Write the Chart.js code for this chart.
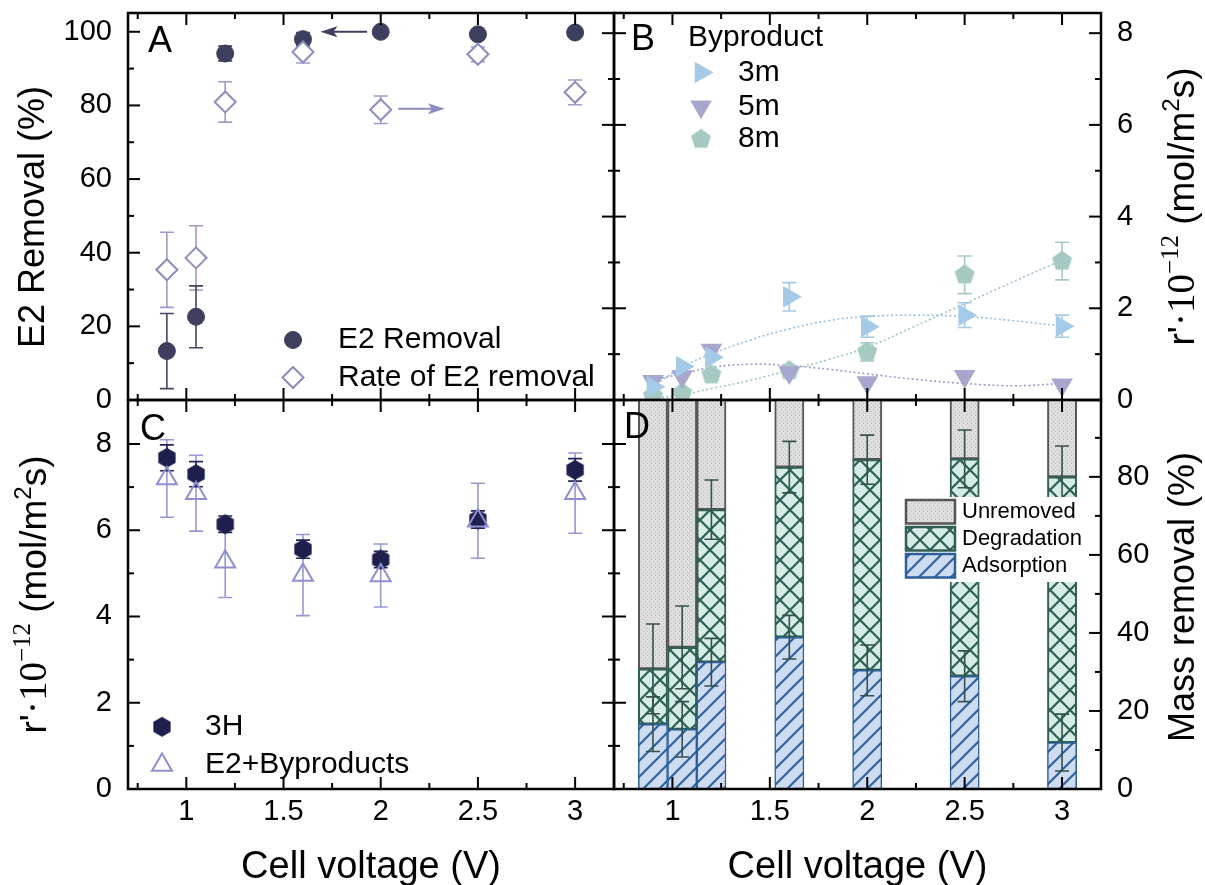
<!DOCTYPE html>
<html>
<head>
<meta charset="utf-8">
<title>E2 removal panels</title>
<script src="https://cdn.jsdelivr.net/npm/chart.js@4.4.1/dist/chart.umd.min.js"></script>
<style>
  html, body { margin:0; padding:0; background:#ffffff; }
  body { position:relative; width:1205px; height:885px; overflow:hidden; }
  canvas { position:absolute; left:-60px; top:-60px; }
</style>
</head>
<body>
<canvas id="cA" width="1325" height="1005"></canvas>
<canvas id="cB" width="1325" height="1005"></canvas>
<canvas id="cC" width="1325" height="1005"></canvas>
<canvas id="cD" width="1325" height="1005"></canvas>
<script>
// ------------------------- data -------------------------
const voltage = [0.9, 1.05, 1.2, 1.6, 2.0, 2.5, 3.0];
const xTickValues  = [1, 1.5, 2, 2.5, 3];
const xMinorValues = [0.75, 1.25, 1.75, 2.25, 2.75];

// Panel A
const yTicksA = [0, 20, 40, 60, 80, 100];
const yMinorA = [10, 30, 50, 70, 90];
const e2Removal    = [13.3, 22.6, 94.1, 98.0, 100.0, 99.3, 99.8];
const e2RemovalErr = [10.2, 8.4, 2.0, 1.8, 0.3, 0.4, 0.3];
const e2Rate       = [2.84, 3.10, 6.50, 7.59, 6.33, 7.54, 6.71];   // r'·10^-12 (right axis)
const e2RateErr    = [0.82, 0.70, 0.44, 0.24, 0.30, 0.16, 0.27];

// Panel B
const yTicksB = [0, 2, 4, 6, 8];
const yMinorB = [1, 3, 5, 7];
const rate3m    = [0.29, 0.73, 0.93, 2.25, 1.60, 1.85, 1.61];
const rate3mErr = [null, null, null, 0.31, 0.23, 0.27, 0.24];
const rate5m    = [0.41, 0.51, 1.09, 0.60, 0.38, 0.52, 0.33];
const rate5mErr = [null, null, 0.10, null, null, null, null];
const rate8m    = [0.09, 0.15, 0.55, 0.64, 1.05, 2.73, 3.03];
const rate8mErr = [null, null, null, null, 0.20, 0.41, 0.41];
const fitX  = [0.9, 1.05, 1.2, 1.4, 1.6, 1.8, 2.0, 2.25, 2.5, 2.75, 3.0];
const fit3m = [0.29, 0.72, 1.00, 1.31, 1.55, 1.73, 1.82, 1.85, 1.82, 1.73, 1.61];
const fit5m = [0.44, 0.57, 0.71, 0.78, 0.75, 0.67, 0.57, 0.45, 0.36, 0.31, 0.36];
const fit8m = [0.04, 0.11, 0.25, 0.43, 0.65, 0.88, 1.15, 1.62, 2.10, 2.58, 3.05];

// Panel C
const yTicksC = [0, 2, 4, 6, 8];
const yMinorC = [1, 3, 5, 7];
const rate3H        = [7.68, 7.30, 6.14, 5.56, 5.32, 6.25, 7.40];
const rate3HErr     = [0.30, 0.29, 0.19, 0.21, 0.19, 0.20, 0.26];
const rateTotal     = [7.20, 6.86, 5.27, 4.96, 4.95, 6.22, 6.86];
const rateTotalErr  = [0.90, 0.88, 0.83, 0.94, 0.73, 0.87, 0.93];

// Panel D
const yTicksD = [0, 20, 40, 60, 80];
const yMinorD = [10, 30, 50, 70, 90];
const adsorption     = [16.6, 15.3, 32.5, 38.9, 30.4, 28.9, 11.9];
const adsorptionErr  = [7.0, 7.1, 6.1, 5.6, 6.5, 6.5, 7.3];
const degradation    = [14.2, 21.0, 39.1, 43.6, 54.0, 55.7, 68.1];
const degradationErr = [11.5, 10.6, 7.6, 6.6, 6.3, 7.4, 7.9];
const unremoved      = [69.2, 63.7, 28.4, 17.5, 15.6, 15.4, 20.0];

// ------------------------- setup -------------------------
const FONT  = "'Liberation Sans', Arial, Helvetica, sans-serif";
const SERIF = "'Liberation Serif', 'Times New Roman', serif";
Chart.defaults.font.family = FONT;
Chart.defaults.color = '#000';

const G = {L:128, M:614, R:1101, T:13, Mid:400, Bot:789};
const OFF = 60, CW = 1325, CH = 1005;
const TICK_FONT = 29, TITLE_FONT = 36, XTITLE_FONT = 38, LEG_FONT = 30, LETTER_FONT = 36;

function tile(w, h, draw) {
  const c = document.createElement('canvas'); c.width = w; c.height = h;
  draw(c.getContext('2d'), w, h); return c;
}
function polyImage(n, r, fill) {
  const s = Math.ceil(2 * r + 4) + (Math.ceil(2 * r + 4) % 2);
  return tile(s, s, (g) => {
    g.translate(s / 2, s / 2); g.beginPath();
    for (let k = 0; k < n; k++) {
      const a = -Math.PI / 2 + k * 2 * Math.PI / n;
      g.lineTo(r * Math.cos(a), r * Math.sin(a));
    }
    g.closePath(); g.fillStyle = fill; g.fill();
  });
}
const pentagonImg = polyImage(5, 10.5, '#a6c9c4');
const hexImg = polyImage(6, 10, '#1f1f4d');

const ST = {
  e2:   {style:'circle', radius:8.5, fill:'#3e3e5e', stroke:'#3e3e5e', borderWidth:1, err:'#45455f'},
  rate: {style:'rectRot', radius:10.5, fill:'#ffffff', stroke:'#8c8cc0', borderWidth:2, err:'#9c9ccb'},
  m3:   {style:'triangle', rotation:90, radius:12.5, fill:'#a5cae8', stroke:'#a5cae8', borderWidth:0, err:'#a5cae8'},
  m5:   {style:'triangle', rotation:180, radius:12.5, fill:'#a7a7cd', stroke:'#a7a7cd', borderWidth:0, err:'#a7a7cd'},
  m8:   {image:pentagonImg, radius:10, fill:'#a6c9c4', err:'#a6c9c4'},
  h3:   {image:hexImg, radius:10, fill:'#1f1f4d', err:'#26265a'},
  tot:  {style:'triangle', radius:11.5, fill:'rgba(0,0,0,0)', stroke:'#8e8ed2', borderWidth:2, err:'#9898d6'}
};

const dCtx = document.getElementById('cD').getContext('2d');
const adsPattern = dCtx.createPattern(tile(16, 16, (g, w, h) => {
  g.fillStyle = '#cddcf1'; g.fillRect(0, 0, w, h);
  g.strokeStyle = '#2c5d9c'; g.lineWidth = 2; g.beginPath();
  g.moveTo(-2, h + 2); g.lineTo(w + 2, -2);
  g.moveTo(-2, 2); g.lineTo(2, -2);
  g.moveTo(w - 2, h + 2); g.lineTo(w + 2, h - 2);
  g.stroke();
}), 'repeat');
const degPattern = dCtx.createPattern(tile(20, 20, (g, w, h) => {
  g.fillStyle = '#d5ebe5'; g.fillRect(0, 0, w, h);
  g.strokeStyle = '#2f5f55'; g.lineWidth = 2.2; g.beginPath();
  g.moveTo(-1, -1); g.lineTo(w + 1, h + 1);
  g.moveTo(w + 1, -1); g.lineTo(-1, h + 1);
  g.stroke();
}), 'repeat');
const unrPattern = dCtx.createPattern(tile(4, 4, (g, w, h) => {
  g.fillStyle = '#dedede'; g.fillRect(0, 0, w, h);
  g.fillStyle = '#bcbcbc'; g.fillRect(1, 1, 1, 1); g.fillRect(3, 3, 1, 1);
}), 'repeat');
const BAR = {
  ads: {fill:adsPattern, stroke:'#2c5d9c', width:1.5},
  deg: {fill:degPattern, stroke:'#2f5f55', width:2},
  unr: {fill:unrPattern, stroke:'#555555', width:2}
};

function pointDs(label, ys, st, extra) {
  return Object.assign({
    label,
    data: voltage.map((x, i) => ({x, y: ys[i]})),
    pointStyle: st.image || st.style,
    pointRotation: st.rotation || 0,
    pointRadius: st.radius,
    pointBackgroundColor: st.fill,
    pointBorderColor: st.stroke || st.fill,
    pointBorderWidth: st.borderWidth || 0,
    showLine: false,
    errorColor: st.err
  }, extra);
}
function fitDs(label, ys, color) {
  return {
    label, data: fitX.map((x, i) => ({x, y: ys[i]})),
    showLine: true, pointRadius: 0, borderColor: color, borderWidth: 1.6,
    borderDash: [2, 2.5], tension: 0.4, fill: false, order: 10
  };
}

// ------------------------- drawing helpers -------------------------
function drawErrors(chart, layer) {
  const ctx = chart.ctx;
  chart.data.datasets.forEach((ds, i) => {
    if (!ds.errors || (ds.errorLayer || 'before') !== layer) return;
    const meta = chart.getDatasetMeta(i);
    const xs = chart.scales[meta.xAxisID], ys = chart.scales[meta.yAxisID];
    ctx.save();
    ctx.strokeStyle = ds.errorColor; ctx.lineWidth = ds.errorWidth || 1.6;
    ds.data.forEach((p, j) => {
      const e = ds.errors[j]; if (e == null) return;
      const c = ds.errorCenter ? ds.errorCenter[j] : p.y;
      const x = xs.getPixelForValue(p.x);
      const yt = ys.getPixelForValue(c + e), yb = ys.getPixelForValue(c - e);
      const w = ds.errorCap || 7;
      ctx.beginPath();
      ctx.moveTo(x, yt); ctx.lineTo(x, yb);
      ctx.moveTo(x - w, yt); ctx.lineTo(x + w, yt);
      ctx.moveTo(x - w, yb); ctx.lineTo(x + w, yb);
      ctx.stroke();
    });
    ctx.restore();
  });
}
function drawMarker(ctx, st, x, y) {
  ctx.save();
  if (st.image) {
    ctx.drawImage(st.image, x - st.image.width / 2, y - st.image.height / 2);
  } else {
    ctx.fillStyle = st.fill; ctx.strokeStyle = st.stroke || st.fill; ctx.lineWidth = st.borderWidth || 0;
    Chart.helpers.drawPoint(ctx, {pointStyle: st.style, rotation: st.rotation || 0, radius: st.radius, borderWidth: st.borderWidth || 0}, x, y);
  }
  ctx.restore();
}
function drawRich(ctx, segs, cx, cy, rot) {
  ctx.save();
  ctx.translate(cx, cy); ctx.rotate(rot);
  let total = 0;
  segs.forEach(s => { ctx.font = s.font; s.w = ctx.measureText(s.t).width; total += s.w; });
  let x = -total / 2;
  ctx.textBaseline = 'alphabetic'; ctx.textAlign = 'left'; ctx.fillStyle = '#000';
  segs.forEach(s => { ctx.font = s.font; ctx.fillText(s.t, x, s.dy || 0); x += s.w; });
  ctx.restore();
}
const sans = (n) => n + 'px ' + FONT;
const serif = (n) => n + 'px ' + SERIF;
const rateTitle = () => [
  {t: "r'", font: sans(TITLE_FONT + 1)},
  {t: "\u00B710", font: serif(TITLE_FONT + 3)},
  {t: "\u221212", font: serif(25), dy: -16},
  {t: " (mol/m", font: sans(TITLE_FONT + 1)},
  {t: "2", font: sans(24), dy: -15},
  {t: "s)", font: sans(TITLE_FONT + 1)}
];

const panelCfg = {
  cA: {
    ticks: [
      {side:'left', scale:'y', major:yTicksA, minor:yMinorA},
      {side:'top', scale:'x', major:xTickValues, minor:xMinorValues},
      {side:'bottom', scale:'x', major:xTickValues, minor:xMinorValues}
    ],
    letter: {t:'A', dx:20, dy:39},
    legend: {items:[{st:ST.e2, label:'E2 Removal'}, {st:ST.rate, label:'Rate of E2 removal'}], mx:165, tx:210, rows:[327, 364.5]},
    titles: [{segs:() => [{t:'E2 Removal (%)', font:sans(TITLE_FONT)}], x:44, y:217}],
    arrows: [
      {x1:1.93, x2:1.69, y:100, yScale:'y', color:'#3e3e5e'},
      {x1:2.09, x2:2.33, y:6.35, yScale:'y2', color:'#8c8cc0'}
    ]
  },
  cB: {
    ticks: [
      {side:'left', scale:'y', major:yTicksB, minor:yMinorB, both:true},
      {side:'right', scale:'y', major:yTicksB, minor:yMinorB},
      {side:'top', scale:'x', major:xTickValues, minor:xMinorValues},
      {side:'bottom', scale:'x', major:xTickValues, minor:xMinorValues}
    ],
    letter: {t:'B', dx:17, dy:37},
    legend: {title:'Byproduct', titleX:74, titleY:24.5,
      items:[{st:ST.m3, label:'3m'}, {st:ST.m5, label:'5m'}, {st:ST.m8, label:'8m'}], mx:87, tx:124, rows:[59.5, 93.7, 126.2]},
    titles: [{segs:rateTitle, x:1194, y:206.5}]
  },
  cC: {
    ticks: [
      {side:'left', scale:'y', major:yTicksC, minor:yMinorC},
      {side:'right', scale:'y', major:yTicksC, minor:yMinorC, both:true},
      {side:'top', scale:'x', major:xTickValues, minor:xMinorValues},
      {side:'bottom', scale:'x', major:xTickValues, minor:xMinorValues}
    ],
    letter: {t:'C', dx:12, dy:40},
    legend: {items:[{st:ST.h3, label:'3H'}, {st:ST.tot, label:'E2+Byproducts'}], mx:34, tx:77, rows:[326.8, 365]},
    titles: [{segs:rateTitle, x:46, y:594.5}, {segs:() => [{t:'Cell voltage (V)', font:sans(XTITLE_FONT)}], x:371, y:878, horiz:true}]
  },
  cD: {
    ticks: [
      {side:'right', scale:'y', major:yTicksD, minor:yMinorD},
      {side:'top', scale:'x', major:xTickValues, minor:xMinorValues},
      {side:'bottom', scale:'x', major:xTickValues, minor:xMinorValues}
    ],
    letter: {t:'D', dx:10, dy:38},
    boxLegend: {bg:[289, 97, 187, 85], bx:292, bw:49, tx:348, rows:[100, 127, 154], bh:23.5,
      items:[{b:BAR.unr, label:'Unremoved'}, {b:BAR.deg, label:'Degradation'}, {b:BAR.ads, label:'Adsorption'}]},
    titles: [{segs:() => [{t:'Mass removal (%)', font:sans(TITLE_FONT)}], x:1194, y:597},
             {segs:() => [{t:'Cell voltage (V)', font:sans(XTITLE_FONT)}], x:857.5, y:878, horiz:true}]
  }
};

const panelPlugin = {
  id: 'panelDecor',
  beforeDatasetsDraw(chart) { drawErrors(chart, 'before'); },
  afterDatasetsDraw(chart) { drawErrors(chart, 'after'); },
  afterDraw(chart) {
    const cfg = panelCfg[chart.canvas.id];
    const ctx = chart.ctx, a = chart.chartArea;
    ctx.save();
    // legend with point markers
    if (cfg.legend) {
      const L = cfg.legend;
      ctx.font = sans(LEG_FONT); ctx.fillStyle = '#000'; ctx.textBaseline = 'middle'; ctx.textAlign = 'left';
      if (L.title) ctx.fillText(L.title, a.left + L.titleX, a.top + L.titleY);
      L.items.forEach((it, k) => {
        drawMarker(ctx, it.st, a.left + L.mx, a.top + L.rows[k]);
        ctx.font = sans(LEG_FONT); ctx.fillStyle = '#000'; ctx.textBaseline = 'middle'; ctx.textAlign = 'left';
        ctx.fillText(it.label, a.left + L.tx, a.top + L.rows[k]);
      });
    }
    // legend with pattern boxes
    if (cfg.boxLegend) {
      const B = cfg.boxLegend;
      ctx.fillStyle = '#fff';
      ctx.fillRect(a.left + B.bg[0], a.top + B.bg[1], B.bg[2], B.bg[3]);
      B.items.forEach((it, k) => {
        const x = a.left + B.bx, y = a.top + B.rows[k];
        ctx.fillStyle = it.b.fill; ctx.fillRect(x, y, B.bw, B.bh);
        ctx.strokeStyle = it.b.stroke; ctx.lineWidth = 2.5; ctx.strokeRect(x, y, B.bw, B.bh);
        ctx.fillStyle = '#000'; ctx.font = sans(22); ctx.textBaseline = 'middle'; ctx.textAlign = 'left';
        ctx.fillText(it.label, a.left + B.tx, y + B.bh / 2);
      });
    }
    // arrows
    (cfg.arrows || []).forEach(ar => {
      const xs = chart.scales.x, ys = chart.scales[ar.yScale];
      const x1 = xs.getPixelForValue(ar.x1), x2 = xs.getPixelForValue(ar.x2), y = ys.getPixelForValue(ar.y);
      const dir = Math.sign(x2 - x1);
      ctx.strokeStyle = ar.color; ctx.fillStyle = ar.color; ctx.lineWidth = 2;
      ctx.beginPath(); ctx.moveTo(x1, y); ctx.lineTo(x2 - dir * 10, y); ctx.stroke();
      ctx.beginPath(); ctx.moveTo(x2, y); ctx.lineTo(x2 - dir * 17, y - 5.5); ctx.lineTo(x2 - dir * 13, y); ctx.lineTo(x2 - dir * 17, y + 5.5); ctx.closePath(); ctx.fill();
    });
    // frame
    ctx.strokeStyle = '#000'; ctx.lineWidth = 2.5;
    ctx.strokeRect(a.left, a.top, a.right - a.left, a.bottom - a.top);
    // tick marks
    ctx.lineWidth = 2;
    cfg.ticks.forEach(t => {
      const sc = chart.scales[t.scale];
      [[t.major, 12], [t.minor, 6]].forEach(([vals, len]) => {
        vals.forEach(v => {
          const p = sc.getPixelForValue(v);
          const out = t.both ? len : 0;
          ctx.beginPath();
          if (t.side === 'left')   { ctx.moveTo(a.left - out, p);  ctx.lineTo(a.left + len, p); }
          if (t.side === 'right')  { ctx.moveTo(a.right + out, p); ctx.lineTo(a.right - len, p); }
          if (t.side === 'top')    { ctx.moveTo(p, a.top - out);   ctx.lineTo(p, a.top + len); }
          if (t.side === 'bottom') { ctx.moveTo(p, a.bottom + out); ctx.lineTo(p, a.bottom - len); }
          ctx.stroke();
        });
      });
    });
    // panel letter
    ctx.fillStyle = '#000'; ctx.font = sans(LETTER_FONT); ctx.textBaseline = 'alphabetic'; ctx.textAlign = 'left';
    ctx.fillText(cfg.letter.t, a.left + cfg.letter.dx, a.top + cfg.letter.dy);
    // axis titles
    cfg.titles.forEach(ti => drawRich(ctx, ti.segs(), ti.x + OFF, ti.y + OFF, ti.horiz ? 0 : -Math.PI / 2));
    ctx.restore();
  }
};

function yAxis(position, min, max, ticks, width) {
  return {
    type: 'linear', position, min, max,
    afterFit: (s) => { s.width = width; },
    afterBuildTicks: (s) => { s.ticks = ticks.map(v => ({value: v})); },
    grid: {display: false, drawTicks: false}, border: {display: false},
    ticks: {padding: 16, font: {size: TICK_FONT}, color: '#000'}
  };
}
function xAxis(show) {
  if (!show) return {type: 'linear', min: 0.7, max: 3.2, display: false, offset: false};
  return {
    type: 'linear', min: 0.7, max: 3.2, offset: false, position: 'bottom',
    afterFit: (s) => { s.height = 60; },
    afterBuildTicks: (s) => { s.ticks = xTickValues.map(v => ({value: v})); },
    grid: {display: false, drawTicks: false}, border: {display: false},
    ticks: {padding: 6, font: {size: TICK_FONT}, color: '#000', maxRotation: 0, autoSkip: false,
            callback: (v) => String(v)}
  };
}
const baseOpts = (padding, scales) => ({
  responsive: false, animation: false, events: [], devicePixelRatio: 1,
  layout: {padding},
  scales,
  plugins: {legend: {display: false}, tooltip: {enabled: false}}
});

// ---------- Panel A ----------
new Chart(document.getElementById('cA'), {
  type: 'scatter',
  data: {datasets: [
    pointDs('Rate of E2 removal', e2Rate, ST.rate, {yAxisID: 'y2', errors: e2RateErr, order: 0}),
    pointDs('E2 Removal', e2Removal, ST.e2, {yAxisID: 'y', errors: e2RemovalErr, order: 1})
  ]},
  options: baseOpts({left: 0, top: G.T + OFF, right: CW - (G.M + OFF), bottom: CH - (G.Mid + OFF)}, {
    x: xAxis(false),
    y: yAxis('left', 0, 105.1, yTicksA, G.L + OFF),
    y2: {type: 'linear', position: 'right', min: 0, max: 8.44, display: false}
  }),
  plugins: [panelPlugin]
});

// ---------- Panel B ----------
new Chart(document.getElementById('cB'), {
  type: 'scatter',
  data: {datasets: [
    fitDs('3m fit', fit3m, '#8fc0e6'),
    fitDs('5m fit', fit5m, '#9d9dcc'),
    fitDs('8m fit', fit8m, '#9cc6c0'),
    pointDs('8m', rate8m, ST.m8, {errors: rate8mErr, order: 3}),
    pointDs('5m', rate5m, ST.m5, {errors: rate5mErr, order: 2}),
    pointDs('3m', rate3m, ST.m3, {errors: rate3mErr, order: 1})
  ]},
  options: baseOpts({left: G.M + OFF, top: G.T + OFF, right: 0, bottom: CH - (G.Mid + OFF)}, {
    x: xAxis(false),
    y: yAxis('right', 0, 8.44, yTicksB, CW - (G.R + OFF))
  }),
  plugins: [panelPlugin]
});

// ---------- Panel C ----------
new Chart(document.getElementById('cC'), {
  type: 'scatter',
  data: {datasets: [
    pointDs('E2+Byproducts', rateTotal, ST.tot, {errors: rateTotalErr, order: 0}),
    pointDs('3H', rate3H, ST.h3, {errors: rate3HErr, order: 1})
  ]},
  options: baseOpts({left: 0, top: G.Mid + OFF, right: CW - (G.M + OFF), bottom: CH - (G.Bot + OFF) - 60}, {
    x: xAxis(true),
    y: yAxis('left', 0, 9.02, yTicksC, G.L + OFF)
  }),
  plugins: [panelPlugin]
});

// ---------- Panel D ----------
const barDs = (label, vals, b, errs, centers) => ({
  label, data: voltage.map((x, i) => ({x, y: vals[i]})),
  backgroundColor: b.fill, borderColor: b.stroke, borderWidth: b.width, borderSkipped: false,
  categoryPercentage: 1, barPercentage: 1,
  errors: errs, errorCenter: centers, errorLayer: 'after', errorColor: '#34514a', errorWidth: 1.6, errorCap: 7
});
new Chart(document.getElementById('cD'), {
  type: 'bar',
  data: {datasets: [
    barDs('Adsorption', adsorption, BAR.ads, adsorptionErr, adsorption),
    barDs('Degradation', degradation, BAR.deg, degradationErr, adsorption.map((v, i) => v + degradation[i])),
    barDs('Unremoved', unremoved, BAR.unr, null, null)
  ]},
  options: baseOpts({left: G.M + OFF, top: G.Mid + OFF, right: 0, bottom: CH - (G.Bot + OFF) - 60}, {
    x: Object.assign(xAxis(true), {stacked: true}),
    y: Object.assign(yAxis('right', 0, 99.7, yTicksD, CW - (G.R + OFF)), {stacked: true})
  }),
  plugins: [panelPlugin]
});
</script>
</body>
</html>
